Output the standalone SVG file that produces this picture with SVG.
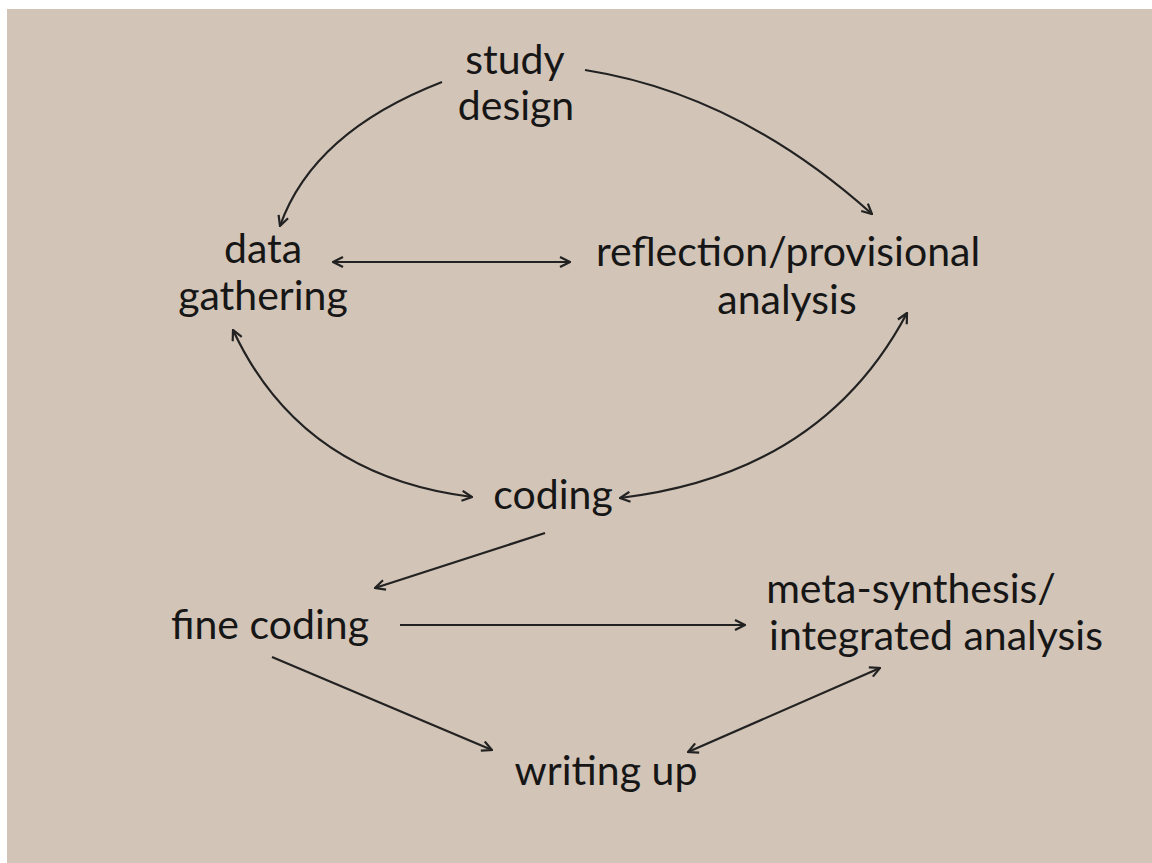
<svg xmlns="http://www.w3.org/2000/svg" width="1152" height="863" viewBox="0 0 1152 863">
<style>
.t{font-family:Lato,"Open Sans","Liberation Sans",sans-serif;font-size:41px;fill:#161616;text-anchor:middle}
.c{fill:none;stroke:#222;stroke-width:2.2}
</style>
<defs>
<marker id="ah" viewBox="0 0 12 12" refX="11" refY="6" markerWidth="12" markerHeight="12" markerUnits="userSpaceOnUse" orient="auto-start-reverse">
<path d="M1,1 L11,6 L1,11" fill="none" stroke="#222" stroke-width="2.2"/>
</marker>
</defs>
<rect width="1152" height="863" fill="#fff"/>
<rect x="7" y="9" width="1145" height="854" fill="#d2c4b7"/>
<g id="study-design"><text class="t" x="515" y="74">study</text><text class="t" x="516" y="120">design</text></g>
<g id="data-gathering"><text class="t" x="263" y="263">data</text><text class="t" x="263" y="310">gathering</text></g>
<g id="reflection"><text class="t" x="788" y="266">reflection/provisional</text><text class="t" x="787" y="314">analysis</text></g>
<g id="coding"><text class="t" x="553" y="509">coding</text></g>
<g id="fine-coding"><text class="t" x="270" y="639">fine coding</text></g>
<g id="meta-synthesis"><text class="t" x="911" y="603">meta-synthesis/</text><text class="t" x="936" y="650">integrated analysis</text></g>
<g id="writing-up"><text class="t" x="606" y="785">writing up</text></g>
<g id="connectors">
<path class="c" d="M442,82 Q313,132 280,226" marker-end="url(#ah)"/>
<path class="c" d="M585,70 Q738,94 872,214" marker-end="url(#ah)"/>
<path class="c" d="M333,262 L570,262" marker-start="url(#ah)" marker-end="url(#ah)"/>
<path class="c" d="M233,330 Q301,476 472,497" marker-start="url(#ah)" marker-end="url(#ah)"/>
<path class="c" d="M620,498 Q822,474 907,313" marker-start="url(#ah)" marker-end="url(#ah)"/>
<path class="c" d="M545,533 L375,588" marker-end="url(#ah)"/>
<path class="c" d="M400,625 L745,625" marker-end="url(#ah)"/>
<path class="c" d="M272,657 L492,750" marker-end="url(#ah)"/>
<path class="c" d="M688,752 L880,668" marker-start="url(#ah)" marker-end="url(#ah)"/>
</g>
</svg>
